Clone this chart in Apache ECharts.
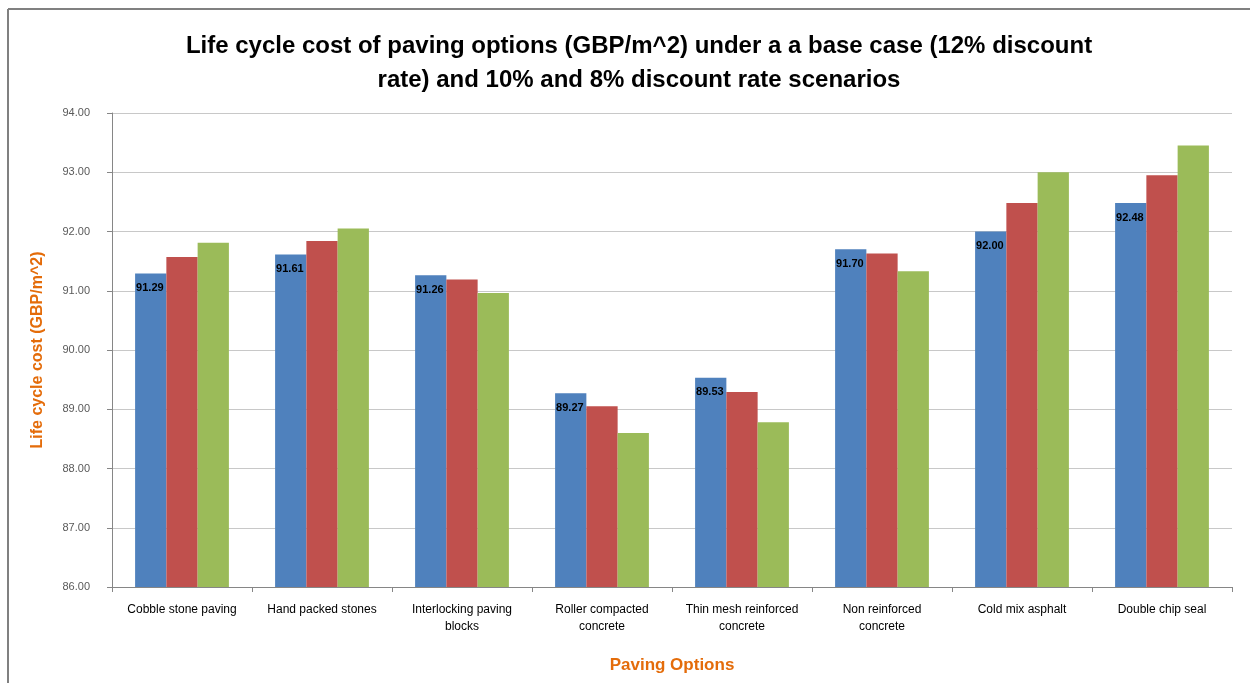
<!DOCTYPE html>
<html>
<head>
    <meta charset="utf-8">
    <title>ECharts</title>
    <script src="https://cdn.jsdelivr.net/npm/echarts@6/dist/echarts.min.js"></script>
    <style>
        html, body { margin: 0; padding: 0; background: #fff; }
    </style>
</head>
<body>
    <div id="main" style="width: 1250px;height:683px;"></div>
    <script type="text/javascript">
        var myChart = echarts.init(document.getElementById('main'));

        // paving options
        var categories = [
            'Cobble stone paving',
            'Hand packed stones',
            'Interlocking paving\nblocks',
            'Roller compacted\nconcrete',
            'Thin mesh reinforced\nconcrete',
            'Non reinforced\nconcrete',
            'Cold mix asphalt',
            'Double chip seal'
        ];

        // base case 12% discount rate
        var base12 = [91.29, 91.61, 91.26, 89.27, 89.53, 91.70, 92.00, 92.48];
        // 10% discount rate
        var rate10 = [91.57, 91.84, 91.19, 89.05, 89.29, 91.63, 92.48, 92.95];
        // 8% discount rate
        var rate8 = [91.81, 92.05, 90.96, 88.60, 88.78, 91.33, 93.00, 93.45];

        var option = {
            backgroundColor: '#ffffff',
            title: {
                text: 'Life cycle cost of paving options (GBP/m^2) under a a base case (12% discount\nrate) and 10% and 8% discount rate scenarios',
                left: 634,
                top: 24,
                textAlign: 'center',
                textStyle: {
                    fontFamily: 'Liberation Sans',
                    fontSize: 24,
                    fontWeight: 'bold',
                    color: '#000',
                    lineHeight: 34
                }
            },
            // frame: only top and left edges show in the picture
            graphic: [{
                type: 'line',
                shape: { x1: 8, y1: 9, x2: 1250, y2: 9 },
                style: { stroke: '#808080', lineWidth: 2 },
                silent: true
            }, {
                type: 'line',
                shape: { x1: 8, y1: 9, x2: 8, y2: 683 },
                style: { stroke: '#808080', lineWidth: 2 },
                silent: true
            }],
            grid: {
                left: 112,
                right: 18,
                top: 113,
                bottom: 96
            },
            xAxis: {
                type: 'category',
                data: categories,
                name: 'Paving Options',
                nameLocation: 'middle',
                nameGap: 70,
                nameTextStyle: {
                    color: '#E46C0A',
                    fontWeight: 'bold',
                    fontSize: 17,
                    fontFamily: 'Liberation Sans'
                },
                axisLine: { lineStyle: { color: '#868686' } },
                axisTick: { show: true, length: 5, lineStyle: { color: '#868686' } },
                axisLabel: {
                    color: '#000',
                    fontSize: 12,
                    fontFamily: 'Liberation Sans',
                    margin: 14,
                    lineHeight: 17,
                    interval: 0
                }
            },
            yAxis: {
                type: 'value',
                min: 86,
                max: 94,
                interval: 1,
                name: 'Life cycle cost (GBP/m^2)',
                nameLocation: 'middle',
                nameGap: 66,
                nameTextStyle: {
                    color: '#E46C0A',
                    fontWeight: 'bold',
                    fontSize: 16,
                    fontFamily: 'Liberation Sans'
                },
                axisLine: { show: true, lineStyle: { color: '#868686' } },
                axisTick: { show: true, length: 5, lineStyle: { color: '#868686' } },
                axisLabel: {
                    color: '#595959',
                    fontSize: 11,
                    fontFamily: 'Liberation Sans',
                    margin: 22,
                    formatter: function (v) { return v.toFixed(2); }
                },
                splitLine: { lineStyle: { color: '#c8c8c8', width: 1 } }
            },
            series: [{
                name: 'Base case (12%)',
                type: 'bar',
                data: base12,
                barGap: '0%',
                barCategoryGap: '33%',
                itemStyle: { color: '#4F81BD' },
                label: {
                    show: true,
                    position: 'insideTopLeft',
                    offset: [-4, 4],
                    color: '#000',
                    fontSize: 11,
                    fontWeight: 'bold',
                    fontFamily: 'Liberation Sans',
                    formatter: function (p) { return p.value.toFixed(2); }
                }
            }, {
                name: '10% discount rate',
                type: 'bar',
                data: rate10,
                itemStyle: { color: '#C0504D' }
            }, {
                name: '8% discount rate',
                type: 'bar',
                data: rate8,
                itemStyle: { color: '#9BBB59' }
            }]
        };

        myChart.setOption(option);
    </script>
</body>
</html>
